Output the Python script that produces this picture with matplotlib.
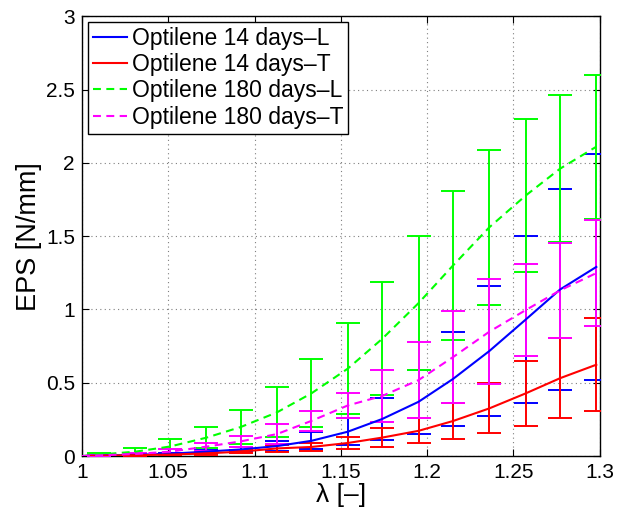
import matplotlib
matplotlib.use("Agg")
import matplotlib.pyplot as plt
from matplotlib.ticker import FormatStrFormatter

plt.rcParams["font.family"] = ["Liberation Sans", "DejaVu Sans"]

# stretch ratio and measured EPS (mean, half-width of error bar)
lam = [1.000, 1.010, 1.031, 1.051, 1.072, 1.092, 1.113, 1.133, 1.154,
       1.174, 1.195, 1.215, 1.236, 1.257, 1.277, 1.298]

opt14_L = [0, 0.003, 0.008, 0.016, 0.030, 0.045, 0.068, 0.104, 0.166,
           0.253, 0.370, 0.526, 0.716, 0.930, 1.136, 1.290]
opt14_L_err = [0, 0.002, 0.005, 0.008, 0.010, 0.020, 0.034, 0.058, 0.091,
               0.145, 0.220, 0.322, 0.443, 0.570, 0.687, 0.773]

opt14_T = [0, 0.002, 0.006, 0.010, 0.018, 0.030, 0.052, 0.062, 0.089,
           0.126, 0.172, 0.239, 0.325, 0.427, 0.531, 0.623]
opt14_T_err = [0, 0.002, 0.004, 0.006, 0.008, 0.012, 0.023, 0.030, 0.043,
               0.062, 0.085, 0.125, 0.170, 0.222, 0.274, 0.316]

opt180_L = [0, 0.010, 0.030, 0.065, 0.125, 0.198, 0.298, 0.428, 0.596,
            0.800, 1.043, 1.300, 1.560, 1.776, 1.960, 2.110]
opt180_L_err = [0, 0.010, 0.022, 0.049, 0.073, 0.116, 0.170, 0.233, 0.310,
                0.385, 0.457, 0.510, 0.530, 0.524, 0.500, 0.490]

opt180_T = [0, 0.005, 0.014, 0.030, 0.064, 0.100, 0.150, 0.240, 0.345,
            0.410, 0.518, 0.675, 0.848, 0.995, 1.130, 1.248]
opt180_T_err = [0, 0.004, 0.008, 0.018, 0.028, 0.040, 0.070, 0.066, 0.088,
                0.180, 0.260, 0.316, 0.357, 0.312, 0.325, 0.362]

labels = ["Optilene 14 days\u2013L", "Optilene 14 days\u2013T",
          "Optilene 180 days\u2013L", "Optilene 180 days\u2013T"]

series = [
    (opt14_L, opt14_L_err, "#0000ff", "-"),
    (opt14_T, opt14_T_err, "#ff0000", "-"),
    (opt180_L, opt180_L_err, "#00ff00", (0, (3.8, 2.6))),
    (opt180_T, opt180_T_err, "#ff00ff", (0, (3.8, 2.6))),
]

fig = plt.figure(figsize=(6.30, 5.23), dpi=100)
ax = fig.add_axes([0.130, 0.128, 0.822, 0.841])

for mean, err, color, ls in series:
    ax.errorbar(lam[1:], mean[1:], yerr=err[1:], fmt="none", ecolor=color,
                elinewidth=1.4, capsize=8.5, capthick=1.4, zorder=3)

handles = []
for (mean, err, color, ls), lab in zip(series, labels):
    (ln,) = ax.plot(lam, mean, color=color, linestyle=ls, linewidth=1.5,
                    label=lab, zorder=4)
    handles.append(ln)

ax.set_xlim(1, 1.3)
ax.set_ylim(0, 3)
ax.set_xticks([1, 1.05, 1.1, 1.15, 1.2, 1.25, 1.3])
ax.set_yticks([0, 0.5, 1, 1.5, 2, 2.5, 3])
ax.xaxis.set_major_formatter(FormatStrFormatter("%g"))
ax.yaxis.set_major_formatter(FormatStrFormatter("%g"))
ax.tick_params(direction="in", length=5, width=0.8, labelsize=15,
               top=True, right=True, pad=5)
for sp in ax.spines.values():
    sp.set_linewidth(1.0)
    sp.set_color("black")
ax.grid(True, color="#7f7f7f", linestyle=(0, (1, 3)), linewidth=0.8)
ax.set_axisbelow(True)

ax.set_xlabel("\u03bb [\u2013]", fontsize=19, labelpad=1)
ax.set_ylabel("EPS [N/mm]", fontsize=19.5, labelpad=3)

leg = ax.legend(handles=handles, loc="upper left", fontsize=16.5,
                frameon=True, fancybox=False, framealpha=1,
                edgecolor="black", handlelength=1.5, handletextpad=0.2,
                labelspacing=0.14, borderpad=0.22, borderaxespad=0.25)
leg.get_frame().set_linewidth(1.0)

fig.savefig("out.png", dpi=100, facecolor="white")
